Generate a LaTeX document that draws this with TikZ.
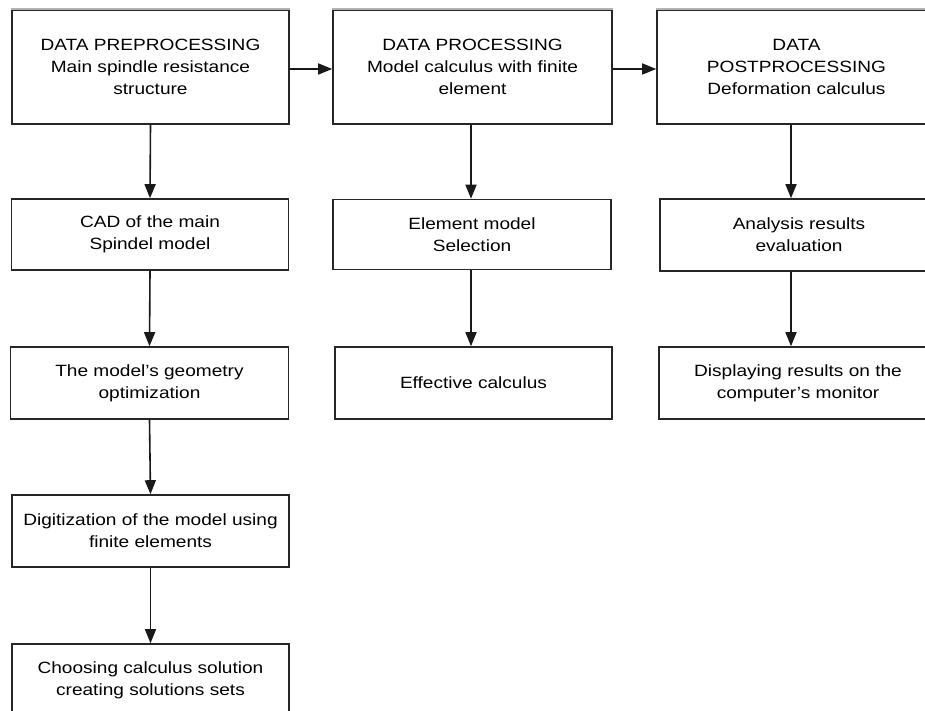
\documentclass[tikz,border=0pt]{standalone}
\usepackage{fontspec}
\setmainfont{Liberation Sans}[FakeStretch=1.17]
\usetikzlibrary{arrows.meta}
\begin{document}
\begin{tikzpicture}[x=1pt,y=-1pt,
  box/.style={draw=black!85, line width=1.6pt, minimum width=277pt, minimum height=72pt,
    align=center, inner sep=0pt, font=\fontsize{16.3}{21.7}\selectfont},
  arr/.style={draw=black!90, line width=1.6pt, -{Triangle[length=14pt,width=11pt]}},
  topedge/.style={draw=black!30, line width=1.6pt}]
\useasboundingbox (0,0) rectangle (925,711);
\begin{scope}
\clip (0,0) rectangle (925,711);
% row 1
\node[box, minimum width=277pt, minimum height=114pt] (p1) at (150.5,67) {DATA PREPROCESSING\\Main spindle resistance\\structure};
\node[box, minimum width=279pt, minimum height=114pt] (p2) at (472.5,67) {DATA PROCESSING\\Model calculus with finite\\element};
\node[box, minimum width=279pt, minimum height=114pt] (p3) at (796.5,67) {DATA\\POSTPROCESSING\\Deformation calculus};
% row 2
\node[box, minimum height=71pt] (c1) at (150,234.5) {CAD of the main\\Spindel model};
\node[box, minimum width=278pt, minimum height=70pt] (e1) at (472,234.5) {Element model\\Selection};
\node[box, minimum width=278pt] (a1) at (799,235) {Analysis results\\evaluation};
% row 3
\node[box, minimum width=278pt] (g1) at (149.5,383) {The model’s geometry\\optimization};
\node[box] (f1) at (473.5,383) {Effective calculus};
\node[box, minimum width=278pt] (d1) at (798,383) {Displaying results on the\\computer’s monitor};
% row 4, 5
\node[box] (z1) at (150.5,531) {Digitization of the model using\\finite elements};
\node[box] (s1) at (150.5,680) {Choosing calculus solution\\creating solutions sets};
% faint top edges
\draw[topedge] (p1.north west) -- (p1.north east);
\draw[topedge] (p2.north west) -- (p2.north east);
\draw[topedge] (p3.north west) -- (p3.north east);
% horizontal arrows
\draw[arr] ([yshift=-2pt]p1.east) -- ([yshift=-2pt]p2.west);
\draw[arr] ([yshift=-2pt]p2.east) -- ([yshift=-2pt]p3.west);
% vertical arrows
\draw[arr] (p1.south) -- (c1.north);
\draw[arr] (c1.south) -- (g1.north);
\draw[arr] (g1.south) -- (z1.north);
\draw[arr] (z1.south) -- (s1.north);
\draw[arr] ([xshift=-1.5pt]p2.south) -- ([xshift=-1pt]e1.north);
\draw[arr] ([xshift=-1pt]e1.south) -- ([xshift=-2.5pt]f1.north);
\draw[arr] ([xshift=-5.5pt]p3.south) -- ([xshift=-8pt]a1.north);
\draw[arr] ([xshift=-8pt]a1.south) -- ([xshift=-7pt]d1.north);
\end{scope}
\end{tikzpicture}
\end{document}
